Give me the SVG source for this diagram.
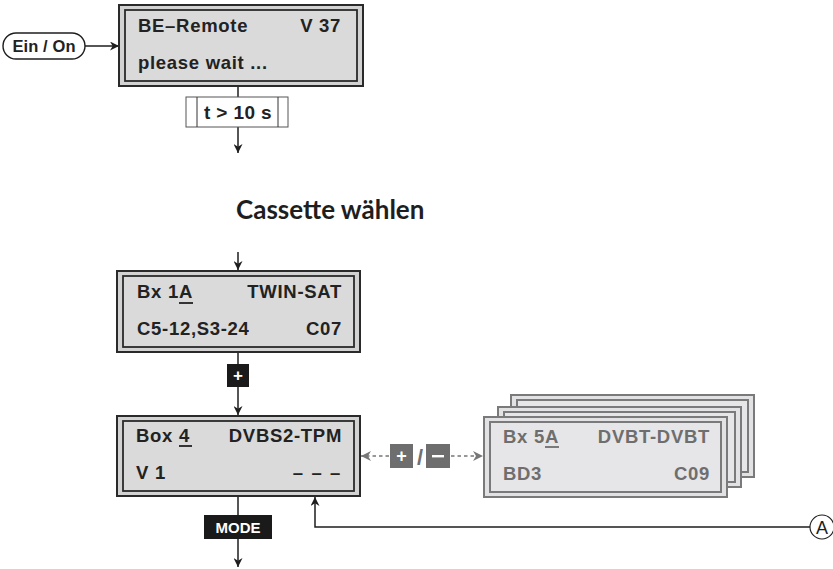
<svg xmlns="http://www.w3.org/2000/svg" width="833" height="569" viewBox="0 0 833 569">
<style>
.bg{fill:#ffffff}
.ob{fill:#d2d2d2;stroke:#2a2a2a;stroke-width:2}
.ib{fill:#dadada;stroke:#2a2a2a;stroke-width:1.8}
.gob{fill:#e2e2e4;stroke:#7a7a7a;stroke-width:2}
.gib{fill:#e6e6e8;stroke:#7a7a7a;stroke-width:2}
.t{font-family:"Liberation Sans",Arial,sans-serif;font-weight:bold;font-size:18.5px;letter-spacing:0.7px;fill:#222}
.gt{font-family:"Liberation Sans",Arial,sans-serif;font-weight:bold;font-size:18.5px;letter-spacing:0.7px;fill:#6e6e6e}
.e{text-anchor:end}
.ln{stroke:#1e1e1e;stroke-width:1.5;fill:none}
.dl{stroke:#777;stroke-width:1.4;fill:none;stroke-dasharray:3.5 3}
.ul{stroke:#222;stroke-width:1.8}
.gul{stroke:#6e6e6e;stroke-width:1.8}
.key{fill:#1a1a1a}
.gkey{fill:#6e6e6e}
.kt{font-family:"Liberation Sans",Arial,sans-serif;font-weight:bold;fill:#fff;text-anchor:middle}
</style>
<defs>
<marker id="ah" viewBox="0 0 10 10" refX="10" refY="5" markerWidth="9" markerHeight="9" markerUnits="userSpaceOnUse" orient="auto">
<path d="M0,0 L10,5 L0,10 L3,5 z" fill="#1e1e1e"/>
</marker>
<marker id="gah" viewBox="0 0 10 10" refX="10" refY="5" markerWidth="10" markerHeight="10" markerUnits="userSpaceOnUse" orient="auto">
<path d="M0,0 L10,5 L0,10 L3,5 z" fill="#777"/>
</marker>
</defs>
<rect class="bg" width="833" height="569"/>

<g id="connectors">
<line class="ln" x1="85" y1="46" x2="119" y2="46" marker-end="url(#ah)"/>
<line class="ln" x1="238" y1="86" x2="238" y2="97"/>
<line class="ln" x1="238" y1="127" x2="238" y2="153" marker-end="url(#ah)"/>
<line class="ln" x1="238" y1="252" x2="238" y2="270" marker-end="url(#ah)"/>
<line class="ln" x1="238" y1="352" x2="238" y2="364"/>
<line class="ln" x1="238" y1="387" x2="238" y2="415" marker-end="url(#ah)"/>
<line class="ln" x1="238" y1="496" x2="238" y2="515"/>
<line class="ln" x1="238" y1="539" x2="238" y2="567" marker-end="url(#ah)"/>
<polyline class="ln" points="810,527 315,527 315,497" marker-end="url(#ah)"/>
<line class="dl" x1="389" y1="456" x2="361" y2="456" marker-end="url(#gah)"/>
<line class="dl" x1="451" y1="456" x2="483" y2="456" marker-end="url(#gah)"/>
</g>

<g id="ein-on">
<rect x="3" y="33" width="82" height="26" rx="13" ry="13" fill="#fff" stroke="#1e1e1e" stroke-width="1.4"/>
<text x="44" y="52" class="t" style="font-size:16.5px;letter-spacing:0.1px;text-anchor:middle">Ein / On</text>
</g>

<g id="box-be-remote">
<rect class="ob" x="119" y="5" width="244" height="81"/>
<rect class="ib" x="125" y="10" width="232" height="71"/>
<text class="t" x="138" y="32">BE–Remote</text>
<text class="t e" x="341" y="32">V 37</text>
<text class="t" x="138" y="69">please wait ...</text>
</g>

<g id="timer">
<rect x="186" y="97" width="102" height="30" fill="#fff" stroke="#555" stroke-width="1"/>
<line x1="197" y1="97" x2="197" y2="127" stroke="#333" stroke-width="1"/>
<line x1="278" y1="97" x2="278" y2="127" stroke="#333" stroke-width="1"/>
<text class="t" x="238" y="119" style="text-anchor:middle;letter-spacing:0.4px;font-size:19px">t &gt; 10 s</text>
</g>

<g id="title">
<text x="236" y="219" style="font-family:Lato,'Liberation Sans',sans-serif;font-weight:bold;font-size:26px;fill:#1e1e1e">Cassette wählen</text>
</g>

<g id="box-bx1a">
<rect class="ob" x="117" y="271" width="243" height="81"/>
<rect class="ib" x="123" y="276" width="231" height="71"/>
<text class="t" x="137" y="298">Bx 1A</text>
<line class="ul" x1="179" y1="303" x2="193" y2="303"/>
<text class="t e" x="342" y="298">TWIN-SAT</text>
<text class="t" x="137" y="335">C5-12,S3-24</text>
<text class="t e" x="342" y="335">C07</text>
</g>

<g id="key-plus">
<rect class="key" x="227" y="364" width="22" height="23"/>
<text class="kt" x="238" y="381" style="font-size:17px">+</text>
</g>

<g id="box-box4">
<rect class="ob" x="117" y="416" width="243" height="80"/>
<rect class="ib" x="123" y="421" width="231" height="70"/>
<text class="t" x="136" y="442">Box 4</text>
<line class="ul" x1="179" y1="446" x2="192" y2="446"/>
<text class="t e" x="342" y="442">DVBS2-TPM</text>
<text class="t" x="136" y="479">V 1</text>
<text class="t e" x="342" y="479" style="letter-spacing:1.6px">– – –</text>
</g>

<g id="key-mode">
<rect class="key" x="204" y="515" width="68" height="24"/>
<text class="kt" x="238" y="532.5" style="font-size:15px">MODE</text>
</g>

<g id="keys-plus-minus">
<rect class="gkey" x="390" y="444" width="23" height="24"/>
<text class="kt" x="401.5" y="462" style="font-size:18px">+</text>
<text x="420" y="465" style="font-family:'Liberation Sans',Arial,sans-serif;font-weight:bold;font-size:22px;fill:#707070;text-anchor:middle">/</text>
<rect class="gkey" x="426" y="444" width="24" height="24"/>
<rect x="432" y="455" width="12" height="2.4" fill="#fff"/>
</g>

<g id="stack-back">
<rect class="gob" x="511" y="395" width="243" height="82"/>
<rect class="gib" x="517" y="400" width="231" height="72"/>
</g>
<g id="stack-middle">
<rect class="gob" x="498" y="407" width="243" height="80"/>
<rect class="gib" x="504" y="412" width="231" height="70"/>
</g>
<g id="stack-front">
<rect class="gob" x="484" y="417" width="243" height="80"/>
<rect class="gib" x="490" y="422" width="231" height="70"/>
<text class="gt" x="503" y="443">Bx 5A</text>
<line class="gul" x1="545" y1="447" x2="559" y2="447"/>
<text class="gt e" x="710" y="443">DVBT-DVBT</text>
<text class="gt" x="503" y="480">BD3</text>
<text class="gt e" x="710" y="480">C09</text>
</g>

<g id="ref-a">
<circle cx="822" cy="527" r="12" fill="#fff" stroke="#1e1e1e" stroke-width="1.1"/>
<text x="822" y="533.5" style="font-family:'Liberation Sans',Arial,sans-serif;font-size:18px;fill:#1e1e1e;text-anchor:middle">A</text>
</g>
</svg>
